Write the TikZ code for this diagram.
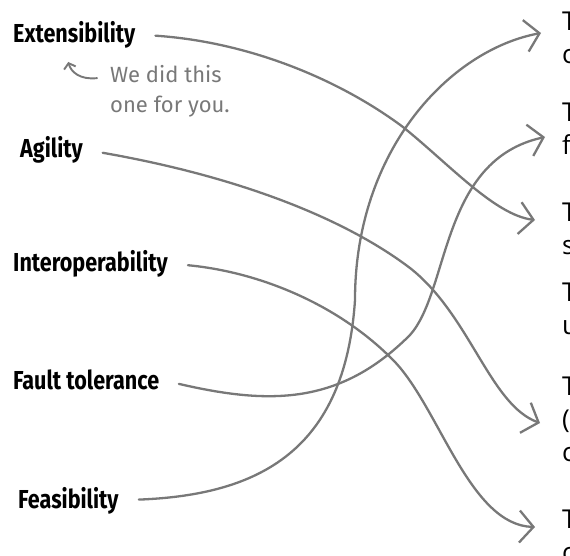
\documentclass[tikz,border=0pt]{standalone}
\usepackage{fontspec}
\setmainfont{Open Sans}
\newfontfamily\labelfont[FakeStretch=0.83]{Fira Sans}
\newfontfamily\notefont{Fira Sans}
\usetikzlibrary{arrows.meta}

\definecolor{pencil}{HTML}{787878}

\tikzset{
  quality/.style={anchor=base west, inner sep=0pt,
    font=\labelfont\bfseries\fontsize{26}{26}\selectfont},
  answer/.style={anchor=north west, inner sep=0pt, align=left,
    font=\fontsize{26}{33}\selectfont},
  link/.style={draw=pencil, line width=2.3pt, line cap=round, line join=round,
    shorten <=20pt, -{Straight Barb[length=14pt,width=32pt]}},
  notearrow/.style={draw=pencil, line width=1.9pt, line cap=round,
    -{Straight Barb[length=5pt,width=12pt]}},
}

\begin{document}
\begin{tikzpicture}[x=1pt,y=-1pt]

  \useasboundingbox (0,0) rectangle (570,555);

  % qualities on the left
  \node[quality] (ext)   at (13,42)  {Extensibility};
  \node[quality] (agil)  at (20,157) {Agility};
  \node[quality] (inter) at (13,271) {Interoperability};
  \node[quality] (fault) at (13,389) {Fault tolerance};
  \node[quality] (feas)  at (18,508) {Feasibility};

  % descriptions on the right, cut off by the page edge
  \node[answer] (ans1) at (562,12)  {T\\c};
  \node[answer] (ans2) at (562,103) {T\\f};
  \node[answer] (ans3) at (562,203) {T\\s};
  \node[answer] (ans4) at (562,283) {T\\u};
  \node[answer] (ans5) at (562,377) {T\\(\\c};
  \node[answer] (ans6) at (562,510) {T\\c};

  % arrow tips
  \coordinate (tip1) at (541,33);
  \coordinate (tip2) at (545,137);
  \coordinate (tip3) at (535,220);
  \coordinate (tip5) at (540,423);
  \coordinate (tip6) at (535,527);

  % the worked example
  \node[anchor=north west, inner sep=0pt, align=left, text=pencil,
        font=\notefont\fontsize{22}{30}\selectfont] (note) at (110,65)
        {We did this\\one for you.};
  \draw[notearrow] ([xshift=-13pt,yshift=13pt]note.west)
        .. controls (80,80) and (71,72) .. ([xshift=-6pt,yshift=-14pt]ext.south);

  % matching lines
  \draw[link] (ext.east) .. controls (250,42) and (340,80) .. (403,127)
        .. controls (450,165) and (495,215) .. (tip3);
  \draw[link] (agil.east) .. controls (230,175) and (340,215) .. (410,268)
        .. controls (470,315) and (490,405) .. (tip5);
  \draw[link] (inter.east) .. controls (260,272) and (340,305) .. (395,362)
        .. controls (440,410) and (470,525) .. (tip6);
  \draw[link] (fault.east) .. controls (270,405) and (340,405) .. (410,335)
        .. controls (450,290) and (440,160) .. (tip2);
  \draw[link] (feas.east) .. controls (260,495) and (345,450) .. (355,300)
        .. controls (355,150) and (450,50) .. (tip1);

\end{tikzpicture}
\end{document}
